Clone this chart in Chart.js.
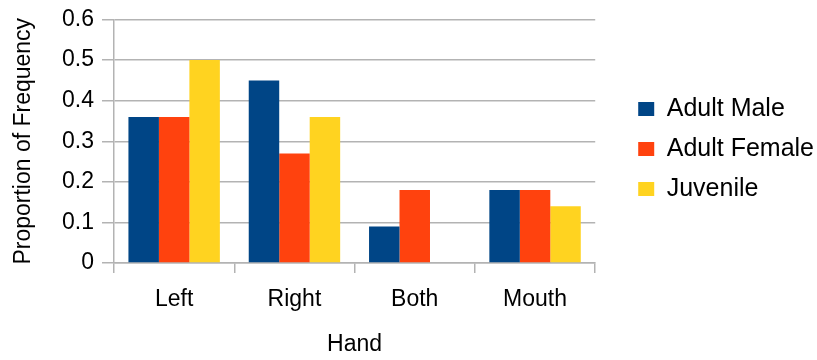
<!DOCTYPE html>
<html>
<head>
<meta charset="utf-8">
<script src="https://cdn.jsdelivr.net/npm/chart.js@4"></script>
<style>
  html, body { margin: 0; padding: 0; background: #fff; }
  #wrap { width: 817px; height: 360px; }
</style>
</head>
<body>
<div id="wrap"><canvas id="handChart"></canvas></div>
<script>
var categories = ["Left", "Right", "Both", "Mouth"];
var adultMale = [0.36, 0.45, 0.09, 0.18];
var adultFemale = [0.36, 0.27, 0.18, 0.18];
var juvenile = [0.5, 0.36, 0, 0.14];
var yTicks = [0, 0.1, 0.2, 0.3, 0.4, 0.5, 0.6];

var gridGray = "#b3b3b3";
Chart.defaults.font.family = "'Liberation Sans', Arial, sans-serif";
Chart.defaults.color = "#000";

const data = {
    labels: categories,
    datasets: [
        { label: "Adult Male", backgroundColor: "#004586", data: adultMale },
        { label: "Adult Female", backgroundColor: "#ff420e", data: adultFemale },
        { label: "Juvenile", backgroundColor: "#ffd320", data: juvenile }
    ]
};

const config = {
    type: "bar",
    data: data,
    options: {
        responsive: true,
        maintainAspectRatio: false,
        animation: false,
        datasets: { bar: { categoryPercentage: 0.76, barPercentage: 1.0 } },
        // legend's own right padding hangs past the edge, like the original
        layout: { padding: { top: 19, right: -7, left: 0, bottom: 0 } },
        plugins: {
            tooltip: { enabled: false },
            legend: {
                position: "right",
                fullSize: false,
                title: { display: true, text: " ", font: { size: 13 }, padding: 0 },
                labels: {
                    boxWidth: 16,
                    boxHeight: 14,
                    padding: 15,
                    font: { size: 25 },
                    color: "#000"
                }
            }
        },
        scales: {
            x: {
                afterFit: s => { s.height = 97; },
                grid: {
                    offset: true,
                    color: ctx => ctx.index === categories.length ? gridGray : "rgba(0,0,0,0)",
                    tickColor: gridGray,
                    tickLength: 10,
                    lineWidth: 1.5
                },
                border: { color: gridGray, width: 1.5 },
                ticks: { font: { size: 23 }, padding: 13 },
                title: { display: true, text: "Hand", font: { size: 23 }, padding: { top: 0, bottom: 2 } }
            },
            y: {
                min: 0,
                max: 0.6,
                afterFit: s => { s.width = 114; },
                afterBuildTicks: axis => { axis.ticks = yTicks.map(v => ({ value: v })); },
                grid: { color: gridGray, tickColor: gridGray, tickLength: 12, lineWidth: 1.5 },
                border: { color: gridGray, width: 1.5 },
                ticks: { font: { size: 23, lineHeight: 1 }, padding: 8 },
                title: { display: true, text: "Proportion of Frequency", font: { size: 23 }, padding: { top: 10, bottom: 0 } }
            },
            // hidden spacer between the plot and the legend
            gap: {
                position: "right",
                display: false,
                afterFit: s => { s.width = 28; }
            }
        }
    }
};
const myChart = new Chart(document.getElementById("handChart"), config);
</script>
</body>
</html>
